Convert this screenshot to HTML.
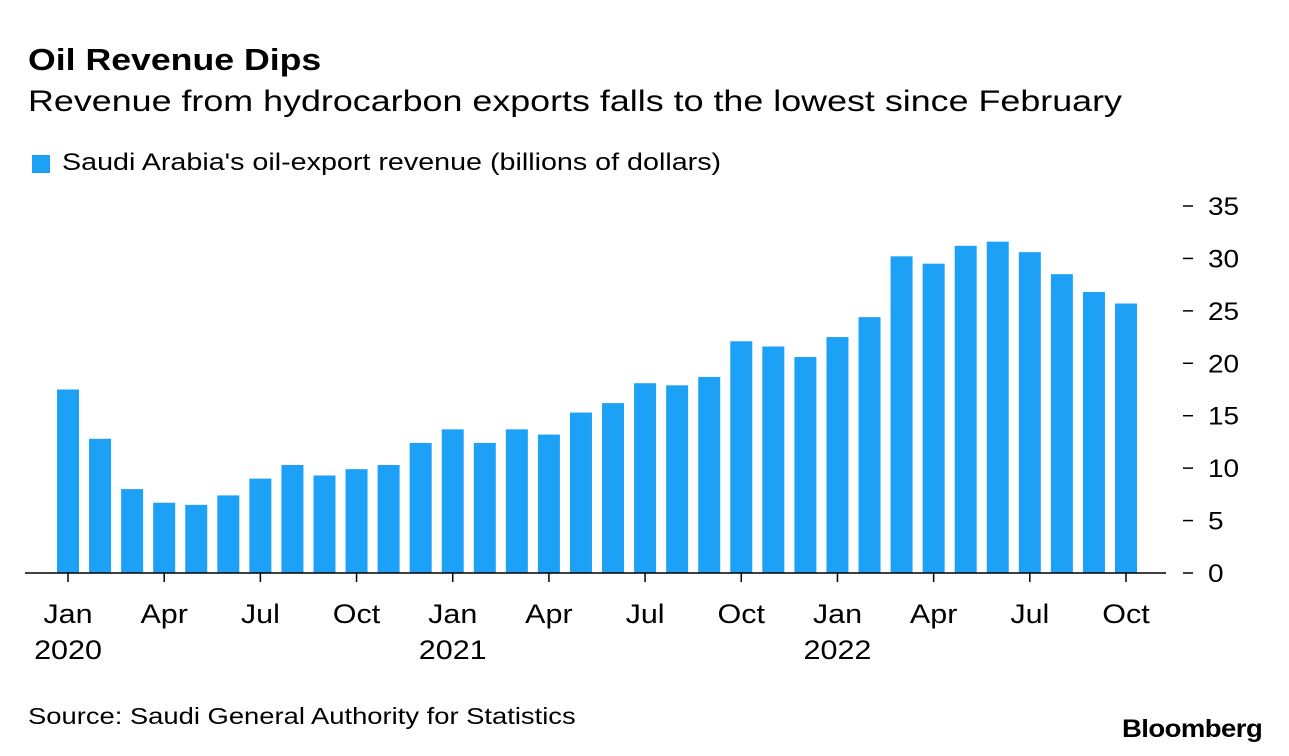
<!DOCTYPE html>
<html><head><meta charset="utf-8">
<style>
body{margin:0;background:#fff;font-family:"Liberation Sans",sans-serif;color:#000;}
#wrap{position:relative;width:1289px;height:756px;overflow:hidden;}
.t{position:absolute;white-space:nowrap;transform-origin:left top;}
</style></head>
<body>
<div id="wrap">
<div class="t" style="left:28px;top:42px;font-size:31px;font-weight:bold;transform:scaleX(1.15);">Oil Revenue Dips</div>
<div class="t" style="left:28px;top:85px;font-size:30px;transform:scaleX(1.195);">Revenue from hydrocarbon exports falls to the lowest since February</div>
<div style="position:absolute;left:32px;top:155px;width:18px;height:18px;background:#1da1f7;"></div>
<div class="t" style="left:62px;top:149px;font-size:24px;transform:scaleX(1.195);">Saudi Arabia's oil-export revenue (billions of dollars)</div>
<svg id="chart" width="1289" height="756" style="position:absolute;left:0;top:0;"></svg>
<div class="t" style="left:28px;top:703px;font-size:23px;transform:scaleX(1.19);">Source: Saudi General Authority for Statistics</div>
<div class="t" style="left:1122px;top:715px;font-size:25px;font-weight:bold;letter-spacing:-0.5px;transform:scaleX(1.1);">Bloomberg</div>
</div>
<script>
const values=[17.5,12.8,8.0,6.7,6.5,7.4,9.0,10.3,9.3,9.9,10.3,12.4,13.7,12.4,13.7,13.2,15.3,16.2,18.1,17.9,18.7,22.1,21.6,20.6,22.5,24.4,30.2,29.5,31.2,31.6,30.6,28.5,26.8,25.7];
const monthLabels=["Jan","Apr","Jul","Oct"];
const yearLabels=["2020","2021","2022"];
const yTicks=[0,5,10,15,20,25,30,35];
const NS="http://www.w3.org/2000/svg";
const svg=document.getElementById('chart');
const y0=573,yTop=206,yMax=35;
const y=v=>y0-(v/yMax)*(y0-yTop);
const x0=68,x1=1126;
const x=i=>x0+i*(x1-x0)/(values.length-1);
const bw=22;
function mk(t,a){const e=document.createElementNS(NS,t);for(const k in a)e.setAttribute(k,a[k]);svg.appendChild(e);return e;}
values.forEach((v,i)=>{
  const r=mk('rect',{x:x(i)-bw/2,y:y(v),width:bw,height:y0-y(v),fill:'#1da1f7'});
  
  
});
const ax=mk('line',{x1:25,x2:1166,y1:y0,y2:y0,stroke:'#000','stroke-width':1.5});


yTicks.forEach(t=>{
  const d=mk('line',{x1:1183,x2:1193,y1:y(t),y2:y(t),stroke:'#000','stroke-width':1.5});
  
  
  const tx=mk('text',{x:1208,y:y(t)+9,'font-size':25,'font-family':'Liberation Sans, sans-serif',transform:`translate(1208,0) scale(1.12,1) translate(-1208,0)`});
  tx.textContent=t;
  
  
});
for(let i=0;i<values.length;i+=3){
  const k=i/3;
  const tk=mk('line',{x1:x(i),x2:x(i),y1:y0,y2:y0+9,stroke:'#000','stroke-width':1.5});
  
  
  const cx=x(i);
  const tx=mk('text',{x:cx,y:623,'font-size':27,'text-anchor':'middle','font-family':'Liberation Sans, sans-serif',transform:`translate(${cx},0) scale(1.13,1) translate(${-cx},0)`});
  tx.textContent=monthLabels[k%4];
  
  
  if(k%4===0){
    const yt=mk('text',{x:cx,y:659,'font-size':27,'text-anchor':'middle','font-family':'Liberation Sans, sans-serif',transform:`translate(${cx},0) scale(1.13,1) translate(${-cx},0)`});
    yt.textContent=yearLabels[k/4];
    
    
  }
}
</script>
</body></html>
